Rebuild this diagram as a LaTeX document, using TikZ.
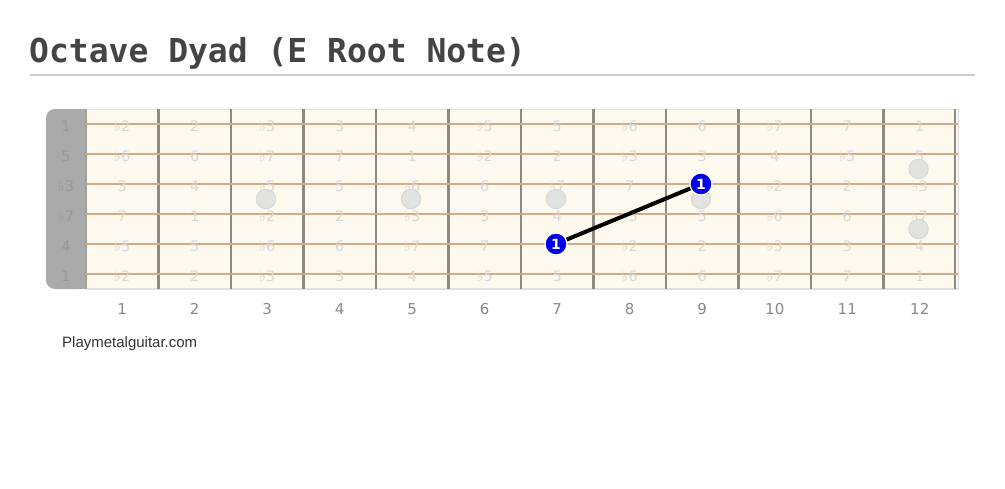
\documentclass[tikz,border=0pt]{standalone}
\usepackage{fontspec}
\setmainfont{DejaVu Sans}
\newfontfamily\titlefont{DejaVu Sans Mono}
\newfontfamily\sitefont{Liberation Sans}
\definecolor{board}{HTML}{FEF9EE}
\definecolor{strg}{HTML}{D4AB86}
\definecolor{fretc}{HTML}{8E8A82}
\definecolor{lbl}{HTML}{DAD7D2}
\definecolor{nutc}{HTML}{AAAAAA}
\definecolor{nutlbl}{HTML}{989898}
\definecolor{inlay}{HTML}{E2E2E0}
\definecolor{inlayb}{HTML}{D4D4D2}
\definecolor{rootc}{HTML}{0000EE}
\definecolor{titlec}{HTML}{444444}
\definecolor{fnum}{HTML}{888888}
\tikzset{
  notelbl/.style={font=\fontsize{14.5}{14.5}\selectfont, text=lbl, inner sep=0pt},
  nutlabel/.style={font=\fontsize{14.5}{14.5}\selectfont, text=nutlbl, inner sep=0pt},
  fretnum/.style={font=\fontsize{15}{15}\selectfont, text=fnum, inner sep=0pt},
  inlaydot/.style={circle, fill=inlay, draw=inlayb, line width=0.8pt, minimum size=19.5pt, inner sep=0pt},
  rootdot/.style={circle, fill=rootc, draw=white, line width=1.2pt, minimum size=22pt, inner sep=0pt,
     text=white, font=\bfseries\fontsize{14}{14}\selectfont},
  stringline/.style={strg, line width=2pt},
  fretline/.style={fretc, line width=2.4pt},
}
\begin{document}
\begin{tikzpicture}[x=1pt,y=-1pt]
\useasboundingbox (0,0) rectangle (1005,488);
\fill[white] (0,0) rectangle (1005,488);
% title
\node[anchor=base west, inner sep=0pt, text=titlec, font=\titlefont\bfseries\fontsize{33}{33}\selectfont] (title) at (29,62) {Octave Dyad (E Root Note)};
\draw[color=black!20, line width=1.4pt] (30,75) -- (975,75);
% board
\fill[board] (86,109) rectangle (958,289);
\draw[black!10, line width=1pt] (86,109) -- (958,109);
\draw[black!12, line width=1.2pt] (86,289) -- (958,289);
\draw[black!15, line width=1pt] (958,109) -- (958,289);
% nut
\fill[nutc, rounded corners=9pt] (46,109) -- (86,109) -- (86,289) -- (46,289) -- cycle;
\fill[nutc] (70,109) rectangle (86,289);
\draw[fretc!80, line width=1.2pt] (86,109) -- (86,289);
% frets
\foreach \f in {1,...,11} {
  \draw[fretline] ({86+72.5*\f},109) -- ({86+72.5*\f},289);
}
\draw[fretline] (955,109) -- (955,289);
% strings
\foreach \s in {0,...,5} {
  \draw[stringline] (86,{124+30*\s}) -- (958,{124+30*\s});
}
% labels (those hidden under the root dots are left out)
\foreach \row/\lst in {
  0/{1,♭2,2,♭3,3,4,♭5,5,♭6,6,♭7,7,1},
  1/{5,♭6,6,♭7,7,1,♭2,2,♭3,3,4,♭5,5},
  2/{♭3,3,4,♭5,5,♭6,6,♭7,7,,♭2,2,♭3},
  3/{♭7,7,1,♭2,2,♭3,3,4,♭5,5,♭6,6,♭7},
  4/{4,♭5,5,♭6,6,♭7,7,,♭2,2,♭3,3,4},
  5/{1,♭2,2,♭3,3,4,♭5,5,♭6,6,♭7,7,1}} {
  \foreach \n [count=\f from 0] in \lst {
    \ifnum\f=0
      \node[nutlabel] (n-\row-\f) at (66,{126+30*\row}) {\n};
    \else
      \node[notelbl] (n-\row-\f) at ({86+72.5*(\f-0.5)},{126+30*\row}) {\n};
    \fi
  }
}
% inlays
\node[inlaydot] (d3) at (266,199) {};
\node[inlaydot] (d5) at (411,199) {};
\node[inlaydot] (d7) at (556,199) {};
\node[inlaydot] (d9) at (701,199) {};
\node[inlaydot] (d12a) at (918.5,169) {};
\node[inlaydot] (d12b) at (918.5,229) {};
% fret numbers
\foreach \f in {1,...,12} {
  \node[fretnum] (fn\f) at ({86+72.5*(\f-0.5)},309) {\f};
}
% root notes
\node[rootdot] (r1) at (556,244) {1};
\node[rootdot] (r2) at (701,184) {1};
\draw[black, line width=4pt] (r1) -- (r2);
% site
\node[anchor=west, inner sep=0pt, text=black!80, font=\sitefont\fontsize{15}{15}\selectfont] (site) at (62,344) {Playmetalguitar.com};
\end{tikzpicture}
\end{document}
